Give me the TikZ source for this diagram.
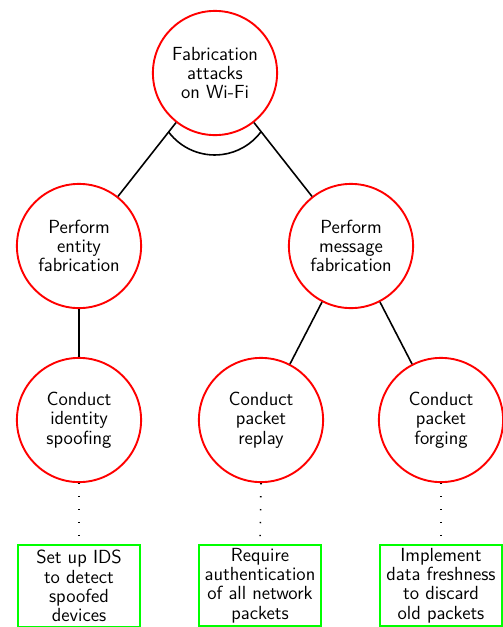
\documentclass[tikz,border=0pt]{standalone}
\usetikzlibrary{calc}
\begin{document}
\begin{tikzpicture}[x=0.632pt,y=-0.632pt,
  font=\sffamily\fontsize{12}{12.2}\selectfont,
  goal/.style={circle,draw=red,line width=1.2pt,minimum size=78.5pt,inner sep=0pt,align=center},
  defense/.style={rectangle,draw=green,line width=1.2pt,minimum width=77.5pt,minimum height=51.5pt,inner sep=1pt,align=center},
  edge/.style={line width=1pt,black},
  dots/.style={line width=1pt,dash pattern=on 0.8pt off 7.4pt,line cap=butt}]
\useasboundingbox (0,0) rectangle (503,627);
\node[goal] (top) at (215,73) {Fabrication\\attacks\\on Wi-Fi};
\node[goal] (ent) at (79,246) {Perform\\entity\\fabrication};
\node[goal] (msg) at (351,246) {Perform\\message\\fabrication};
\node[goal] (spoof) at (79,420) {Conduct\\identity\\spoofing};
\node[goal] (replay) at (261,420) {Conduct\\packet\\replay};
\node[goal] (forge) at (441,420) {Conduct\\packet\\forging};
\node[defense] (ids) at (79,586) {Set up IDS\\to detect\\spoofed\\devices};
\node[defense] (auth) at (260,585.5) {Require\\authentication\\of all network\\packets};
\node[defense] (fresh) at (441,585.5) {Implement\\data freshness\\to discard\\old packets};
\draw[edge] (top) -- (ent);
\draw[edge] (top) -- (msg);
\draw[edge] (ent) -- (spoof);
\draw[edge] (msg) -- (replay);
\draw[edge] (msg) -- (forge);
\coordinate (andstart) at ($(top)!0.341!(ent)$);
\draw[edge] (andstart) arc[start angle=217,end angle=323,radius=36.5pt];
\draw[dots] (spoof.south) -- (ids.north);
\draw[dots] (replay.south) -- (auth.north);
\draw[dots] (forge.south) -- (fresh.north);
\end{tikzpicture}
\end{document}
